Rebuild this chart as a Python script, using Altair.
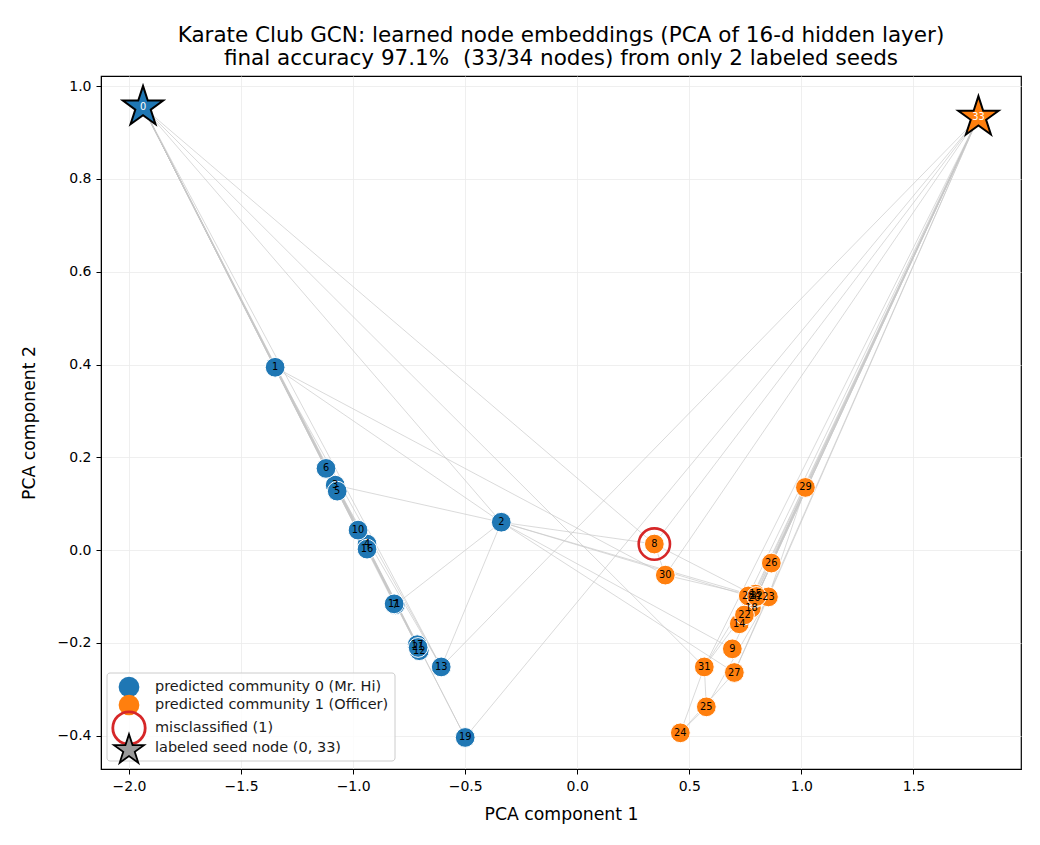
import altair as alt
import pandas as pd

node_ids = list(range(34))
node_x = [-1.9375, -1.348, -0.339, -1.080, -0.938, -1.071, -1.121, -0.812, 0.344, 0.692,
          -0.978, -0.817, -0.705, -0.607, 0.723, 0.795, -0.938, -0.714, 0.777, -0.500,
          0.790, -0.710, 0.746, 0.853, 0.460, 0.576, 0.866, 0.701, 0.763, 1.018,
          0.393, 0.567, 0.800, 1.790]
node_y = [0.955, 0.394, 0.060, 0.140, 0.013, 0.127, 0.176, -0.118, 0.013, -0.213,
          0.043, -0.116, -0.217, -0.252, -0.159, -0.095, 0.002, -0.204, -0.125, -0.404,
          -0.103, -0.210, -0.140, -0.101, -0.394, -0.338, -0.028, -0.264, -0.099, 0.135,
          -0.054, -0.252, -0.100, 0.933]
pred_comm = [0, 0, 0, 0, 0, 0, 0, 0, 1, 1,
             0, 0, 0, 0, 1, 1, 0, 0, 1, 0,
             1, 0, 1, 1, 1, 1, 1, 1, 1, 1,
             1, 1, 1, 1]
seeds = [0, 33]
misclassified = [8]

edges = [(0,1),(0,2),(0,3),(0,4),(0,5),(0,6),(0,7),(0,8),(0,10),(0,11),(0,12),(0,13),
         (0,17),(0,19),(0,21),(0,31),(1,2),(1,3),(1,7),(1,13),(1,17),(1,19),(1,21),(1,30),
         (2,3),(2,7),(2,8),(2,9),(2,13),(2,27),(2,28),(2,32),(3,7),(3,12),(3,13),
         (4,6),(4,10),(5,6),(5,10),(5,16),(6,16),(8,30),(8,32),(8,33),(9,33),(13,33),
         (14,32),(14,33),(15,32),(15,33),(18,32),(18,33),(19,33),(20,32),(20,33),
         (22,32),(22,33),(23,25),(23,27),(23,29),(23,32),(23,33),(24,25),(24,27),
         (24,31),(25,31),(26,29),(26,33),(27,33),(28,31),(28,33),(29,32),(29,33),
         (30,32),(30,33),(31,32),(31,33),(32,33)]

x_ticks = [-2.0, -1.5, -1.0, -0.5, 0.0, 0.5, 1.0, 1.5]
y_ticks = [-0.4, -0.2, 0.0, 0.2, 0.4, 0.6, 0.8, 1.0]

title_lines = ["Karate Club GCN: learned node embeddings (PCA of 16-d hidden layer)",
               "final accuracy 97.1%\u00a0 (33/34 nodes) from only 2 labeled seeds"]
legend_labels = ["predicted community 0 (Mr. Hi)", "predicted community 1 (Officer)",
                 "misclassified (1)", "labeled seed node (0, 33)"]

BLUE = "#1f77b4"
ORANGE = "#ff7f0e"
FONT = "DejaVu Sans"
STAR = ("M0,-1L0.2245,-0.309L0.951,-0.309L0.363,0.118L0.588,0.809L0,0.382"
        "L-0.588,0.809L-0.363,0.118L-0.951,-0.309L-0.2245,-0.309Z")

nodes = pd.DataFrame({"id": node_ids, "x": node_x, "y": node_y, "comm": pred_comm})
nodes["label"] = nodes["id"].astype(str)
nodes["seed"] = nodes["id"].isin(seeds)
nodes["mis"] = nodes["id"].isin(misclassified)

edf = pd.DataFrame({
    "x": [node_x[a] for a, b in edges], "y": [node_y[a] for a, b in edges],
    "x2": [node_x[b] for a, b in edges], "y2": [node_y[b] for a, b in edges],
})

xs = alt.Scale(domain=[-2.125, 1.98], nice=False, zero=False)
ys = alt.Scale(domain=[-0.472, 1.022], nice=False, zero=False)
xax = alt.Axis(values=x_ticks, format=".1f", title="PCA component 1", grid=True)
yax = alt.Axis(values=y_ticks, format=".1f", title="PCA component 2", grid=True)
cscale = alt.Scale(domain=[0, 1], range=[BLUE, ORANGE])

edge_layer = alt.Chart(edf).mark_rule(color="#c8c8c8", strokeWidth=0.8, opacity=0.85).encode(
    x=alt.X("x:Q", scale=xs, axis=xax), y=alt.Y("y:Q", scale=ys, axis=yax),
    x2="x2:Q", y2="y2:Q")

base = alt.Chart(nodes)
circles = base.transform_filter("!datum.seed").mark_point(
    shape="circle", filled=True, size=390, stroke="white", strokeWidth=1, opacity=1
).encode(x=alt.X("x:Q", scale=xs), y=alt.Y("y:Q", scale=ys),
         fill=alt.Fill("comm:N", scale=cscale, legend=None))

ring = base.transform_filter("datum.mis").mark_point(
    shape="circle", filled=False, size=980, stroke="#d62728", strokeWidth=2.6, opacity=1
).encode(x=alt.X("x:Q", scale=xs), y=alt.Y("y:Q", scale=ys))

stars = base.transform_filter("datum.seed").mark_point(
    shape=STAR, filled=True, size=1800, stroke="black", strokeWidth=2, opacity=1
).encode(x=alt.X("x:Q", scale=xs), y=alt.Y("y:Q", scale=ys),
         fill=alt.Fill("comm:N", scale=cscale, legend=None))

labels = base.transform_filter("!datum.seed").mark_text(
    fontSize=9.8, font=FONT, color="black", baseline="middle", align="center"
).encode(x=alt.X("x:Q", scale=xs), y=alt.Y("y:Q", scale=ys), text="label:N")

seed_labels = base.transform_filter("datum.seed").mark_text(
    fontSize=9.8, font=FONT, color="white", baseline="middle", align="center"
).encode(x=alt.X("x:Q", scale=xs), y=alt.Y("y:Q", scale=ys), text="label:N")

# legend box (pixel layout inside plot area)
one = pd.DataFrame({"a": [0]})
leg_box = alt.Chart(one).mark_rect(
    fill="white", fillOpacity=0.8, stroke="#cccccc", strokeWidth=1, cornerRadius=3
).encode(x=alt.value(6), x2=alt.value(294), y=alt.value(597), y2=alt.value(685))

row_y = [611, 629, 652, 672]
leg_items = [
    alt.Chart(one).mark_point(shape="circle", filled=True, size=430, color=BLUE, opacity=1)
    .encode(x=alt.value(28), y=alt.value(row_y[0])),
    alt.Chart(one).mark_point(shape="circle", filled=True, size=430, color=ORANGE, opacity=1)
    .encode(x=alt.value(28), y=alt.value(row_y[1])),
    alt.Chart(one).mark_point(shape="circle", filled=False, size=1050, stroke="#d62728",
                              strokeWidth=2.8, opacity=1)
    .encode(x=alt.value(28), y=alt.value(row_y[2])),
    alt.Chart(one).mark_point(shape=STAR, filled=True, size=1000, fill="#9a9a9a",
                              stroke="black", strokeWidth=1.8, opacity=1)
    .encode(x=alt.value(28), y=alt.value(row_y[3] + 2)),
]
leg_texts = [
    alt.Chart(pd.DataFrame({"t": [legend_labels[i]]})).mark_text(
        align="left", baseline="middle", fontSize=14.5, font=FONT, color="#1a1a1a"
    ).encode(x=alt.value(54), y=alt.value(row_y[i]), text="t:N")
    for i in range(4)
]

chart = alt.layer(
    edge_layer, circles, ring, stars, labels, seed_labels, leg_box, *leg_items, *leg_texts
).properties(
    width=920, height=693,
    title=alt.Title(
        title_lines,
        fontSize=21.5, font=FONT, fontWeight="normal", color="black",
        anchor="middle", lineHeight=23, offset=7),
    padding={"left": 101, "top": 76, "right": 19, "bottom": 76},
    autosize="none",
).configure_view(stroke="black", strokeWidth=1.2).configure_axis(
    labelFont=FONT, titleFont=FONT, labelFontSize=14, titleFontSize=17.3,
    titleFontWeight="normal", labelColor="black", titleColor="black",
    domainColor="black", tickColor="black", tickSize=5, gridColor="#ebebeb",
    gridWidth=0.8, labelPadding=5, titlePadding=12
).configure_axisY(titlePadding=19)

chart.save("out.html", embed_options={"renderer": "svg", "actions": False})
